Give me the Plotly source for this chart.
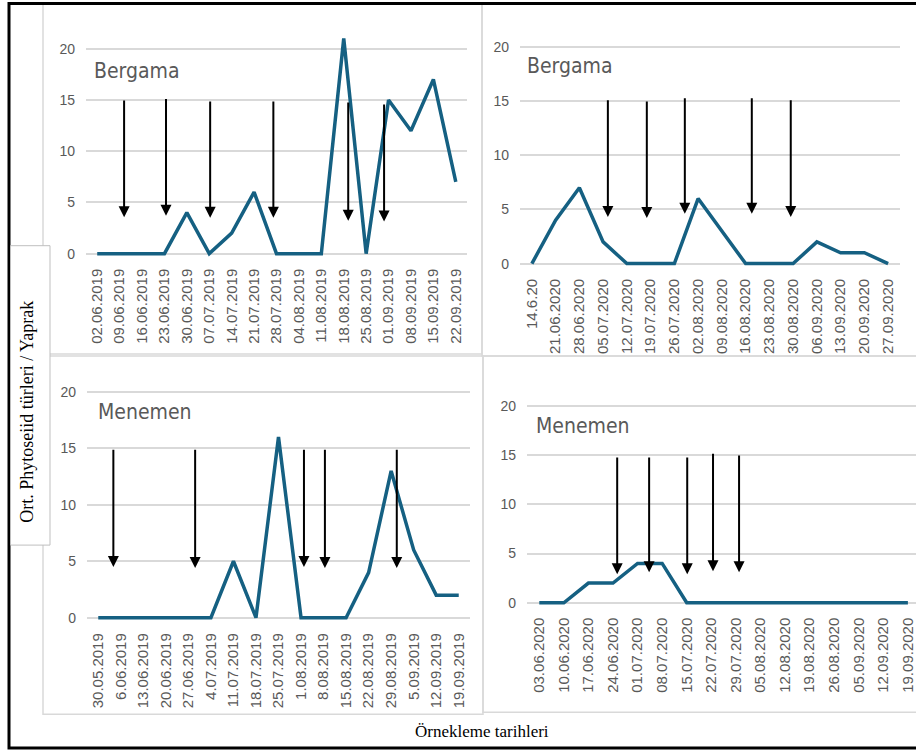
import plotly.graph_objects as go

W, H = 916, 756

# ---- data -------------------------------------------------------------
bergama_2019_dates = ["02.06.2019", "09.06.2019", "16.06.2019", "23.06.2019", "30.06.2019",
                      "07.07.2019", "14.07.2019", "21.07.2019", "28.07.2019", "04.08.2019",
                      "11.08.2019", "18.08.2019", "25.08.2019", "01.09.2019", "08.09.2019",
                      "15.09.2019", "22.09.2019"]
bergama_2019_values = [0, 0, 0, 0, 4, 0, 2, 6, 0, 0, 0, 21, 0, 15, 12, 17, 7]

bergama_2020_dates = ["14.6.20", "21.06.2020", "28.06.2020", "05.07.2020", "12.07.2020",
                      "19.07.2020", "26.07.2020", "02.08.2020", "09.08.2020", "16.08.2020",
                      "23.08.2020", "30.08.2020", "06.09.2020", "13.09.2020", "20.09.2020",
                      "27.09.2020"]
bergama_2020_values = [0, 4, 7, 2, 0, 0, 0, 6, 3, 0, 0, 0, 2, 1, 1, 0]

menemen_2019_dates = ["30.05.2019", "6.06.2019", "13.06.2019", "20.06.2019", "27.06.2019",
                      "4.07.2019", "11.07.2019", "18.07.2019", "25.07.2019", "1.08.2019",
                      "8.08.2019", "15.08.2019", "22.08.2019", "29.08.2019", "5.09.2019",
                      "12.09.2019", "19.09.2019"]
menemen_2019_values = [0, 0, 0, 0, 0, 0, 5, 0, 16, 0, 0, 0, 4, 13, 6, 2, 2]

menemen_2020_dates = ["03.06.2020", "10.06.2020", "17.06.2020", "24.06.2020", "01.07.2020",
                      "08.07.2020", "15.07.2020", "22.07.2020", "29.07.2020", "05.08.2020",
                      "12.08.2020", "19.08.2020", "26.08.2020", "05.09.2020", "12.09.2020",
                      "19.09.2020"]
menemen_2020_values = [0, 0, 2, 2, 4, 4, 0, 0, 0, 0, 0, 0, 0, 0, 0, 0]

y_ticks = [0, 5, 10, 15, 20]

# application arrows: category position, arrow start (top) and tip values
bergama_2019_arrow_x = [1.2, 3.07, 5.04, 7.86, 11.2, 12.8]
bergama_2019_arrow_top = [15.1, 15.25, 15.0, 15.0, 14.9, 14.7]
bergama_2019_arrow_tip = [3.55, 3.7, 3.5, 3.5, 3.2, 3.15]

bergama_2020_arrow_x = [3.2, 4.84, 6.44, 9.26, 10.9]
bergama_2020_arrow_top = [15.2, 15.1, 15.4, 15.4, 15.2]
bergama_2020_arrow_tip = [4.3, 4.2, 4.6, 4.6, 4.3]

menemen_2019_arrow_x = [0.67, 4.3, 9.13, 10.06, 13.25]
menemen_2019_arrow_top = [15.0, 15.0, 15.0, 15.0, 15.0]
menemen_2019_arrow_tip = [4.5, 4.4, 4.5, 4.4, 4.4]

menemen_2020_arrow_x = [3.17, 4.47, 6.02, 7.07, 8.13]
menemen_2020_arrow_top = [14.9, 14.9, 14.9, 15.3, 15.1]
menemen_2020_arrow_tip = [2.9, 3.1, 2.9, 3.2, 3.1]

# ---- styling ----------------------------------------------------------
LINE = "#156082"
GRID = "#d9d9d9"
TXT = "#595959"
SANS = "Liberation Sans, Arial, sans-serif"
NARROW = "DejaVu Sans Condensed, Liberation Sans Narrow, Arial Narrow, sans-serif"
SERIF = "Liberation Serif, Times New Roman, serif"


def fx(px):
    return px / W


def fy(py):
    return 1 - py / H


panels = [
    dict(dates=bergama_2019_dates, values=bergama_2019_values,
         ax=bergama_2019_arrow_x, at=bergama_2019_arrow_top, ap=bergama_2019_arrow_tip,
         left=86, right=467, y0=255, y20=49, xr=[-0.5, 16.5],
         label="Bergama", lx=92, ly=71),
    dict(dates=bergama_2020_dates, values=bergama_2020_values,
         ax=bergama_2020_arrow_x, at=bergama_2020_arrow_top, ap=bergama_2020_arrow_tip,
         left=520, right=900, y0=265, y20=47, xr=[-0.5, 15.5],
         label="Bergama", lx=525, ly=66),
    dict(dates=menemen_2019_dates, values=menemen_2019_values,
         ax=menemen_2019_arrow_x, at=menemen_2019_arrow_top, ap=menemen_2019_arrow_tip,
         left=87, right=470, y0=621, y20=394, xr=[-0.5, 16.5],
         label="Menemen", lx=96, ly=414),
    dict(dates=menemen_2020_dates, values=menemen_2020_values,
         ax=menemen_2020_arrow_x, at=menemen_2020_arrow_top, ap=menemen_2020_arrow_tip,
         left=527, right=916, y0=606, y20=408, xr=[-0.5, 15.33],
         label="Menemen", lx=534, ly=428),
]

fig = go.Figure()
annotations = []
shapes = []
LO, HI = -0.4, 22

for i, p in enumerate(panels, start=1):
    xa = "x" if i == 1 else f"x{i}"
    ya = "y" if i == 1 else f"y{i}"
    fig.add_trace(go.Scatter(
        x=p["dates"], y=p["values"], mode="lines",
        line=dict(color=LINE, width=3.5),
        xaxis=xa, yaxis=ya, showlegend=False, hoverinfo="skip",
    ))
    ppu = (p["y0"] - p["y20"]) / 20
    bottom_px = p["y0"] - LO * ppu
    top_px = p["y0"] - HI * ppu
    xkey = "xaxis" if i == 1 else f"xaxis{i}"
    ykey = "yaxis" if i == 1 else f"yaxis{i}"
    fig.layout[xkey] = dict(
        domain=[fx(p["left"]), fx(p["right"])], anchor=ya, type="category",
        range=p["xr"], showgrid=False, zeroline=False, showline=False, ticks="",
        tickangle=-90, tickfont=dict(family=SANS, size=15, color=TXT),
        ticklabelstandoff=7, fixedrange=True,
    )
    fig.layout[ykey] = dict(
        domain=[fy(bottom_px), fy(top_px)], anchor=xa, range=[LO, HI],
        tickvals=y_ticks, showgrid=True, gridcolor=GRID, gridwidth=2,
        zeroline=False, showline=False, ticks="",
        tickfont=dict(family=SANS, size=14, color=TXT),
        ticklabelstandoff=10, fixedrange=True,
    )
    for x, top, tip in zip(p["ax"], p["at"], p["ap"]):
        annotations.append(dict(
            xref=xa, yref=ya, axref=xa, ayref=ya,
            x=x, y=tip, ax=x, ay=top, text="", showarrow=True,
            arrowhead=2, arrowsize=1.1, arrowwidth=2, arrowcolor="black", standoff=0,
        ))
    annotations.append(dict(
        xref="paper", yref="paper", x=fx(p["lx"]), y=fy(p["ly"]),
        xanchor="left", yanchor="middle", text=p["label"], showarrow=False,
        font=dict(family=NARROW, size=21, color=TXT),
    ))

# panel frames
for x0, x1, y0, y1 in [(43, 482, 4, 356), (482, 930, 4, 358),
                       (43, 483, 358, 718), (483, 930, 358, 716)]:
    shapes.append(dict(type="rect", xref="paper", yref="paper", layer="below",
                       x0=fx(x0), x1=fx(x1), y0=fy(y1), y1=fy(y0),
                       line=dict(color=GRID, width=1.5), fillcolor="rgba(0,0,0,0)"))

# outer frame
shapes.append(dict(type="rect", xref="paper", yref="paper", layer="above",
                   x0=fx(9), x1=fx(940), y0=fy(752), y1=fy(3.5),
                   line=dict(color="black", width=3), fillcolor="rgba(0,0,0,0)"))

# y-axis title box
shapes.append(dict(type="rect", xref="paper", yref="paper", layer="above",
                   x0=fx(10.5), x1=fx(50), y0=fy(548), y1=fy(247),
                   line=dict(color="#bfbfbf", width=1), fillcolor="white"))

annotations.append(dict(
    xref="paper", yref="paper", x=fx(27), y=fy(414), textangle=-90,
    xanchor="center", yanchor="middle",
    text="Ort. Phytoseiid türleri / Yaprak", showarrow=False,
    font=dict(family=SERIF, size=18, color="black"),
))
annotations.append(dict(
    xref="paper", yref="paper", x=fx(482), y=fy(735),
    xanchor="center", yanchor="middle",
    text="Örnekleme tarihleri", showarrow=False,
    font=dict(family=SERIF, size=17, color="black"),
))

fig.update_layout(
    width=W, height=H, margin=dict(l=0, r=0, t=0, b=0),
    paper_bgcolor="white", plot_bgcolor="rgba(0,0,0,0)",
    shapes=shapes, annotations=annotations, showlegend=False,
)

fig.write_html("out.html", config=dict(displayModeBar=False))
